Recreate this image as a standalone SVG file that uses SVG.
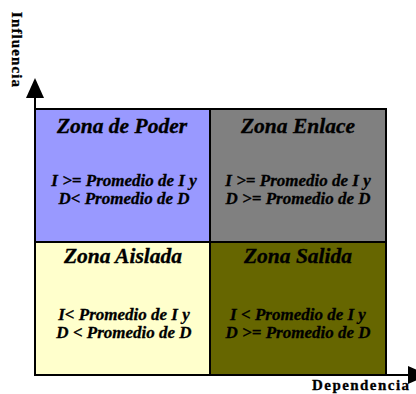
<svg xmlns="http://www.w3.org/2000/svg" width="416" height="394" viewBox="0 0 416 394">
<style>
.zone{stroke:#000;stroke-width:2}
.title{font-family:"Liberation Serif","Times New Roman",serif;font-weight:bold;font-style:italic;font-size:21.5px;fill:#000;stroke:#000;stroke-width:0.35;text-anchor:middle}
.body{font-family:"Liberation Serif","Times New Roman",serif;font-weight:bold;font-style:italic;font-size:17px;fill:#000;stroke:#000;stroke-width:0.3;text-anchor:middle}
.axis{font-family:"Liberation Serif","Times New Roman",serif;font-weight:bold;font-size:15px;fill:#000;stroke:#000;stroke-width:0.3}
.axline{stroke:#000;stroke-width:2;fill:none}
</style>
<rect width="416" height="394" fill="#fff"/>
<g id="zona-poder">
<rect class="zone" x="35" y="109" width="175" height="133" fill="#9999FF"/>
<text class="title" x="122" y="133">Zona de Poder</text>
<text class="body" x="124" y="186">I &gt;= Promedio de I y</text>
<text class="body" x="124" y="204">D&lt; Promedio de D</text>
</g>
<g id="zona-enlace">
<rect class="zone" x="210" y="109" width="176" height="133" fill="#808080"/>
<text class="title" x="298" y="133">Zona Enlace</text>
<text class="body" x="298" y="186">I &gt;= Promedio de I y</text>
<text class="body" x="298" y="204">D &gt;= Promedio de D</text>
</g>
<g id="zona-aislada">
<rect class="zone" x="35" y="242" width="175" height="133" fill="#FFFFCC"/>
<text class="title" x="123" y="263">Zona Aislada</text>
<text class="body" x="124" y="320">I&lt; Promedio de I y</text>
<text class="body" x="124" y="338">D &lt; Promedio de D</text>
</g>
<g id="zona-salida">
<rect class="zone" x="210" y="242" width="176" height="133" fill="#666600"/>
<text class="title" x="298" y="263">Zona Salida</text>
<text class="body" x="298" y="320">I &lt; Promedio de I y</text>
<text class="body" x="298" y="338">D &gt;= Promedio de D</text>
</g>
<g id="connectors">
<line class="axline" x1="35" y1="375" x2="35" y2="96"/>
<polygon points="35,78 26,98 44,98" fill="#000"/>
<line class="axline" x1="35" y1="375" x2="410" y2="375"/>
<polygon points="428,375 408,366 408,384" fill="#000"/>
</g>
<g id="labels">
<text class="axis" transform="translate(11.5,12) rotate(90)" textLength="75" lengthAdjust="spacing">Influencia</text>
<text class="axis" x="312" y="390" textLength="97" lengthAdjust="spacing">Dependencia</text>
</g>
</svg>
